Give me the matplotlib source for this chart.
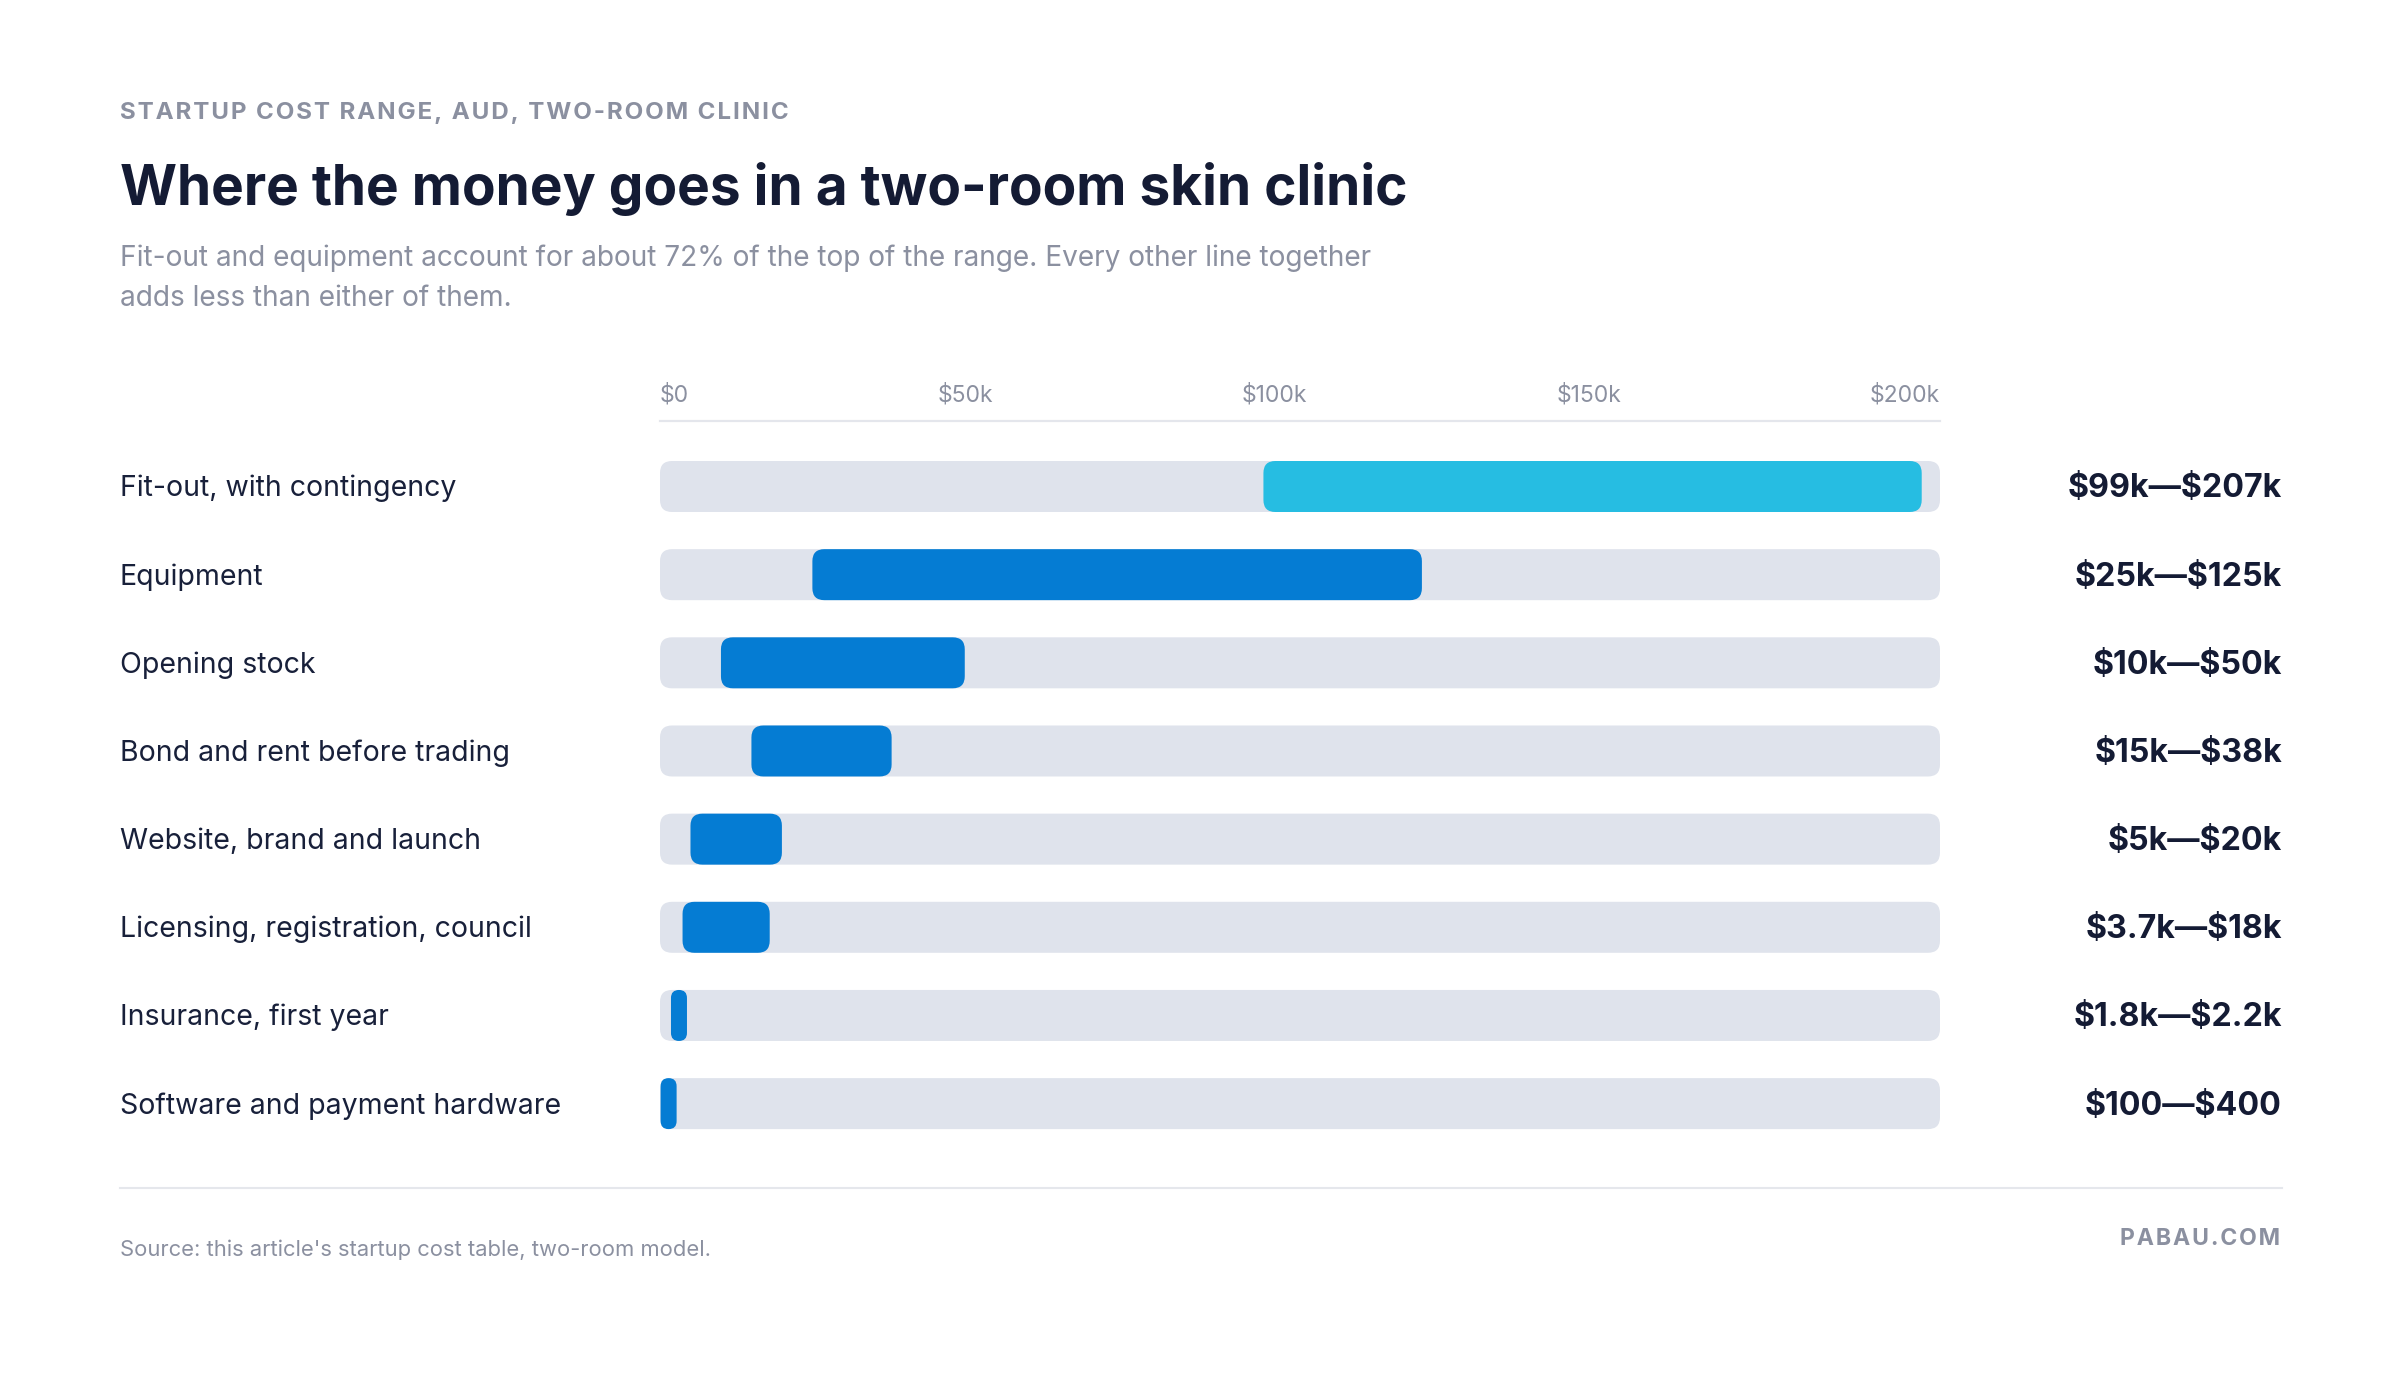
import matplotlib
matplotlib.use('Agg')
import matplotlib.pyplot as plt
from matplotlib.patches import FancyBboxPatch
from matplotlib.transforms import blended_transform_factory

plt.rcParams['font.family'] = ['Inter', 'DejaVu Sans']
plt.rcParams['text.parse_math'] = False

W, H, DPI = 2400, 1374, 100

# data, AUD thousands
categories = [
    "Fit-out, with contingency",
    "Equipment",
    "Opening stock",
    "Bond and rent before trading",
    "Website, brand and launch",
    "Licensing, registration, council",
    "Insurance, first year",
    "Software and payment hardware",
]
low_k = [99, 25, 10, 15, 5, 3.7, 1.8, 0.1]
high_k = [207, 125, 50, 38, 20, 18, 2.2, 0.4]
range_labels = ["$99k\u2014$207k", "$25k\u2014$125k", "$10k\u2014$50k", "$15k\u2014$38k",
                "$5k\u2014$20k", "$3.7k\u2014$18k", "$1.8k\u2014$2.2k", "$100\u2014$400"]
tick_labels = ["$0", "$50k", "$100k", "$150k", "$200k"]
x_max = 210

navy = "#141b34"
grey = "#8b90a0"
track = "#dfe3ec"
cyan = "#26bde2"
blue = "#057cd3"
bar_colors = [cyan] + [blue] * 7

fig = plt.figure(figsize=(W / DPI, H / DPI), dpi=DPI)
fig.patch.set_facecolor("white")


def fx(px):
    return px / W


def fy(py):
    # py measured from the top
    return 1 - py / H


def spaced(s):
    # fake letter spacing with hair spaces
    return "\u200a".join(s)


# bar area in pixels
left, right = 660, 1940
pitch = 88.16
first_center = 486.5
top = first_center - pitch / 2
bottom = first_center + 7 * pitch + pitch / 2
ax = fig.add_axes([fx(left), fy(bottom), (right - left) / W, (bottom - top) / H])
ax.set_xlim(0, x_max)
ax.set_ylim(len(categories) - 0.5, -0.5)
ax.axis("off")

px_per_x = (right - left) / x_max
px_per_y = pitch
bar_h = 51 / px_per_y
radius_px = 12
r_x = radius_px / px_per_x
aspect = (radius_px / px_per_y) / r_x
min_w = 16 / px_per_x


def rounded_bar(x0, x1, y, color):
    w = x1 - x0
    r = min(r_x, w / 2)
    p = FancyBboxPatch((x0, y - bar_h / 2), w, bar_h,
                       boxstyle="round,pad=0,rounding_size=%f" % r,
                       mutation_aspect=aspect, linewidth=0,
                       facecolor=color, edgecolor="none")
    ax.add_patch(p)


lab_tr = blended_transform_factory(ax.transAxes, ax.transData)
for i, name in enumerate(categories):
    rounded_bar(0, x_max, i, track)
    hi = max(high_k[i], low_k[i] + min_w)
    rounded_bar(low_k[i], hi, i, bar_colors[i])
    ax.text((120 - left) / (right - left), i + 10 / pitch, name, transform=lab_tr,
            ha="left", va="baseline", fontsize=20.5, color="#18203a")
    ax.text((2282 - left) / (right - left), i + 11 / pitch, range_labels[i],
            transform=lab_tr, ha="right", va="baseline", fontsize=23.2,
            fontweight="bold", color=navy)

# axis line above the bars
fig.add_artist(plt.Line2D([fx(left), fx(right)], [fy(421), fy(421)],
                          color="#e4e6ec", linewidth=1.6))

# tick labels spread edge to edge like the reference
tick_texts = [fig.text(0, fy(401), t, fontsize=16.5, color=grey, va="baseline")
              for t in tick_labels]
renderer = fig.canvas.get_renderer()
widths = [t.get_window_extent(renderer).width for t in tick_texts]
gap = ((right - left) - sum(widths)) / (len(widths) - 1)
xpos = left
for t, w in zip(tick_texts, widths):
    t.set_x(fx(xpos))
    xpos += w + gap

# header
fig.text(fx(120), fy(119.5), spaced("STARTUP COST RANGE, AUD, TWO-ROOM CLINIC"), fontsize=17.4,
         fontweight="bold", color=grey, va="baseline")
fig.text(fx(120), fy(205), "Where the money goes in a two-room skin clinic", fontsize=39.6,
         fontweight="bold", color=navy, va="baseline")
fig.text(fx(120), fy(266), "Fit-out and equipment account for about 72% of the top of the range. "
         "Every other line together", fontsize=20.2, color=grey, va="baseline")
fig.text(fx(120), fy(306), "adds less than either of them.", fontsize=20.2, color=grey,
         va="baseline")

# footer
fig.add_artist(plt.Line2D([fx(120), fx(2282)], [fy(1188), fy(1188)],
                          color="#e5e7ec", linewidth=1.5))
fig.text(fx(120), fy(1256), "Source: this article's startup cost table, two-room model.",
         fontsize=15.8, color=grey, va="baseline")
fig.text(fx(2280), fy(1245), spaced("PABAU.COM"), fontsize=16.6, fontweight="bold", color=grey,
         ha="right", va="baseline")

fig.savefig("out.png", dpi=DPI, facecolor="white")
